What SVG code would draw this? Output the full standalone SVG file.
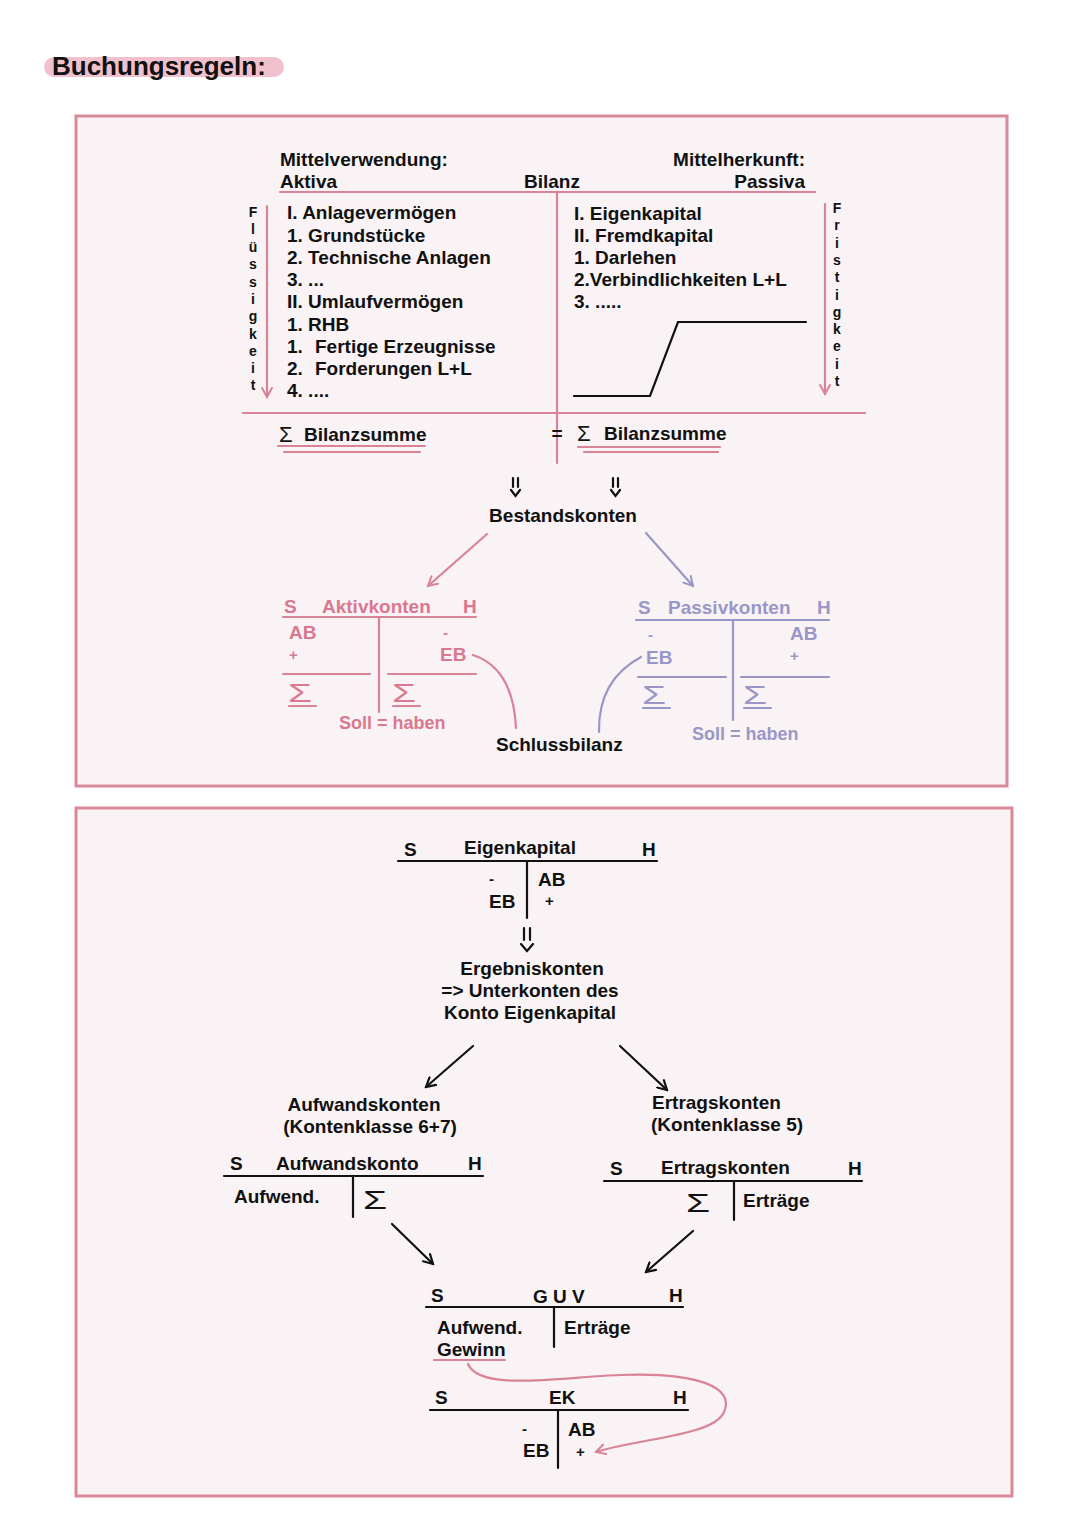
<svg xmlns="http://www.w3.org/2000/svg" width="1080" height="1527" viewBox="0 0 1080 1527">
<defs>
<style>
text{font-family:"Liberation Sans","Noto Sans",sans-serif;font-weight:700;font-size:19px;fill:#111}
.pk{fill:#d9788e}
.pu{fill:#9a97c8}
.ln{stroke:#111;stroke-width:2.2;fill:none;stroke-linecap:round}
.lp{stroke:#d98396;stroke-width:2.2;fill:none;stroke-linecap:round}
.lu{stroke:#9a97c8;stroke-width:2.2;fill:none;stroke-linecap:round}
.frame{fill:#f9f3f5;stroke:#d98a9a;stroke-width:3}
.c{text-anchor:middle}
.e{text-anchor:end}
.v{font-size:14px;text-anchor:middle}
.sm{font-size:15px}
.sg{font-size:26px;font-weight:400}
</style>
<marker id="ab" viewBox="0 0 12 12" refX="10" refY="6" markerWidth="12" markerHeight="12" markerUnits="userSpaceOnUse" orient="auto"><path d="M1,1 L10,6 L1,11" fill="none" stroke="#111" stroke-width="2.2" stroke-linecap="round"/></marker>
<marker id="ap" viewBox="0 0 12 12" refX="10" refY="6" markerWidth="12" markerHeight="12" markerUnits="userSpaceOnUse" orient="auto"><path d="M1,1 L10,6 L1,11" fill="none" stroke="#d98396" stroke-width="2" stroke-linecap="round"/></marker>
<marker id="au" viewBox="0 0 12 12" refX="10" refY="6" markerWidth="12" markerHeight="12" markerUnits="userSpaceOnUse" orient="auto"><path d="M1,1 L10,6 L1,11" fill="none" stroke="#9a97c8" stroke-width="2" stroke-linecap="round"/></marker>
</defs>
<rect width="1080" height="1527" fill="#ffffff"/>

<g id="title">
<rect x="44" y="57" width="240" height="20" rx="10" fill="#f0c0cc"/>
<text x="52" y="75" style="font-size:26px;font-weight:700">Buchungsregeln:</text>
</g>

<rect class="frame" x="76" y="116" width="931" height="670"/>
<rect class="frame" x="76" y="808" width="936" height="688"/>

<g id="bilanz">
<line class="lp" x1="280" y1="192" x2="815" y2="192"/>
<line class="lp" x1="557" y1="192" x2="557" y2="463"/>
<line class="lp" x1="243" y1="413" x2="865" y2="413"/>
<text x="280" y="166">Mittelverwendung:</text>
<text x="280" y="188">Aktiva</text>
<text x="524" y="188">Bilanz</text>
<text x="805" y="166" class="e">Mittelherkunft:</text>
<text x="805" y="188" class="e">Passiva</text>
<text x="287" y="219">I. Anlagevermögen</text>
<text x="287" y="242">1. Grundstücke</text>
<text x="287" y="264">2. Technische Anlagen</text>
<text x="287" y="286">3. ...</text>
<text x="287" y="308">II. Umlaufvermögen</text>
<text x="287" y="331">1. RHB</text>
<text x="287" y="353">1.<tspan x="315">Fertige Erzeugnisse</tspan></text>
<text x="287" y="375">2.<tspan x="315">Forderungen L+L</tspan></text>
<text x="287" y="397">4. ....</text>
<text x="574" y="220">I. Eigenkapital</text>
<text x="574" y="242">II. Fremdkapital</text>
<text x="574" y="264">1. Darlehen</text>
<text x="574" y="286">2.Verbindlichkeiten L+L</text>
<text x="574" y="308">3. .....</text>
<polyline class="ln" points="574,396 650,396 678,322 806,322"/>
<g id="fluessigkeit">
<text x="253" y="217" class="v">F</text><text x="253" y="234" class="v">l</text><text x="253" y="252" class="v">ü</text><text x="253" y="269" class="v">s</text><text x="253" y="287" class="v">s</text><text x="253" y="304" class="v">i</text><text x="253" y="321" class="v">g</text><text x="253" y="339" class="v">k</text><text x="253" y="356" class="v">e</text><text x="253" y="373" class="v">i</text><text x="253" y="390" class="v">t</text>
<line class="lp" x1="267" y1="206" x2="267" y2="397" marker-end="url(#ap)"/>
</g>
<g id="fristigkeit">
<text x="837" y="213" class="v">F</text><text x="837" y="230" class="v">r</text><text x="837" y="248" class="v">i</text><text x="837" y="265" class="v">s</text><text x="837" y="282" class="v">t</text><text x="837" y="300" class="v">i</text><text x="837" y="317" class="v">g</text><text x="837" y="334" class="v">k</text><text x="837" y="351" class="v">e</text><text x="837" y="369" class="v">i</text><text x="837" y="386" class="v">t</text>
<line class="lp" x1="825" y1="204" x2="825" y2="394" marker-end="url(#ap)"/>
</g>
<text x="279" y="442" style="font-size:22px;font-weight:400">Σ</text>
<text x="304" y="441">Bilanzsumme</text>
<line class="lp" x1="278" y1="446" x2="425" y2="446"/>
<line class="lp" x1="284" y1="452" x2="420" y2="452"/>
<text x="557" y="440" class="c">=</text>
<text x="577" y="441" style="font-size:22px;font-weight:400">Σ</text>
<text x="604" y="440">Bilanzsumme</text>
<line class="lp" x1="578" y1="447" x2="720" y2="447"/>
<line class="lp" x1="584" y1="452" x2="718" y2="452"/>
</g>

<g id="bestandskonten">
<text x="563" y="522" class="c">Bestandskonten</text>
</g>

<g id="aktivkonten">
<text x="284" y="613" class="pk">S</text>
<text x="322" y="613" class="pk">Aktivkonten</text>
<text x="463" y="613" class="pk">H</text>
<line class="lp" x1="283" y1="617" x2="476" y2="617"/>
<line class="lp" x1="379" y1="617" x2="379" y2="712"/>
<text x="289" y="639" class="pk">AB</text>
<text x="289" y="660" class="pk sm">+</text>
<text x="443" y="638" class="pk sm">-</text>
<text x="440" y="661" class="pk">EB</text>
<line class="lp" x1="283" y1="674" x2="370" y2="674"/>
<line class="lp" x1="388" y1="674" x2="476" y2="674"/>
<text class="pk sg" transform="translate(288,702) scale(1.5,1)">Σ</text>
<line class="lp" x1="289" y1="706" x2="316" y2="706"/>
<text class="pk sg" transform="translate(392,702) scale(1.5,1)">Σ</text>
<line class="lp" x1="393" y1="706" x2="420" y2="706"/>
<text x="339" y="729" class="pk" style="font-size:18px">Soll = haben</text>
</g>

<g id="passivkonten">
<text x="638" y="614" class="pu">S</text>
<text x="668" y="614" class="pu">Passivkonten</text>
<text x="817" y="614" class="pu">H</text>
<line class="lu" x1="636" y1="620" x2="829" y2="620"/>
<line class="lu" x1="733" y1="620" x2="733" y2="720"/>
<text x="648" y="640" class="pu sm">-</text>
<text x="646" y="664" class="pu">EB</text>
<text x="790" y="640" class="pu">AB</text>
<text x="790" y="661" class="pu sm">+</text>
<line class="lu" x1="638" y1="677" x2="726" y2="677"/>
<line class="lu" x1="741" y1="677" x2="829" y2="677"/>
<text class="pu sg" transform="translate(642,704) scale(1.5,1)">Σ</text>
<line class="lu" x1="643" y1="708" x2="670" y2="708"/>
<text class="pu sg" transform="translate(743,704) scale(1.5,1)">Σ</text>
<line class="lu" x1="744" y1="708" x2="771" y2="708"/>
<text x="692" y="740" class="pu" style="font-size:18px">Soll = haben</text>
</g>

<g id="schlussbilanz">
<text x="496" y="751">Schlussbilanz</text>
</g>

<g id="eigenkapital">
<text x="404" y="856">S</text>
<text x="464" y="854">Eigenkapital</text>
<text x="642" y="856">H</text>
<line class="ln" x1="398" y1="861" x2="657" y2="861"/>
<line class="ln" x1="527" y1="861" x2="527" y2="918"/>
<text x="489" y="884" class="sm">-</text>
<text x="538" y="886">AB</text>
<text x="489" y="908">EB</text>
<text x="545" y="906" class="sm">+</text>
</g>

<g id="ergebniskonten">
<text x="532" y="975" class="c">Ergebniskonten</text>
<text x="530" y="997" class="c">=&gt; Unterkonten des</text>
<text x="530" y="1019" class="c">Konto Eigenkapital</text>
</g>

<g id="aufwandskonten">
<text x="364" y="1111" class="c">Aufwandskonten</text>
<text x="370" y="1133" class="c">(Kontenklasse 6+7)</text>
<text x="230" y="1170">S</text>
<text x="276" y="1170">Aufwandskonto</text>
<text x="468" y="1170">H</text>
<line class="ln" x1="224" y1="1176" x2="483" y2="1176"/>
<line class="ln" x1="353" y1="1176" x2="353" y2="1217"/>
<text x="234" y="1203">Aufwend.</text>
<text class="sg" transform="translate(363,1209) scale(1.5,1)">Σ</text>
</g>

<g id="ertragskonten">
<text x="652" y="1109">Ertragskonten</text>
<text x="651" y="1131">(Kontenklasse 5)</text>
<text x="610" y="1175">S</text>
<text x="661" y="1174">Ertragskonten</text>
<text x="848" y="1175">H</text>
<line class="ln" x1="604" y1="1181" x2="862" y2="1181"/>
<line class="ln" x1="734" y1="1181" x2="734" y2="1220"/>
<text class="sg" transform="translate(686,1212) scale(1.5,1)">Σ</text>
<text x="743" y="1207">Erträge</text>
</g>

<g id="guv">
<text x="431" y="1302">S</text>
<text x="533" y="1303">G U V</text>
<text x="669" y="1302">H</text>
<line class="ln" x1="426" y1="1307" x2="683" y2="1307"/>
<line class="ln" x1="554" y1="1307" x2="554" y2="1347"/>
<text x="437" y="1334">Aufwend.</text>
<text x="437" y="1356">Gewinn</text>
<line class="lp" x1="434" y1="1360" x2="505" y2="1360"/>
<text x="564" y="1334">Erträge</text>
</g>

<g id="ek">
<text x="435" y="1404">S</text>
<text x="549" y="1404">EK</text>
<text x="673" y="1404">H</text>
<line class="ln" x1="430" y1="1410" x2="688" y2="1410"/>
<line class="ln" x1="558" y1="1410" x2="558" y2="1468"/>
<text x="522" y="1434" class="sm">-</text>
<text x="568" y="1436">AB</text>
<text x="523" y="1457">EB</text>
<text x="576" y="1457" class="sm">+</text>
</g>

<g id="connectors">
<g id="dbl1"><line class="ln" x1="513" y1="478" x2="513" y2="487"/><line class="ln" x1="518" y1="478" x2="518" y2="487"/><polyline class="ln" points="511,490 515.5,496 520,490"/></g>
<g id="dbl2"><line class="ln" x1="613" y1="478" x2="613" y2="487"/><line class="ln" x1="618" y1="478" x2="618" y2="487"/><polyline class="ln" points="611,490 615.5,496 620,490"/></g>
<line class="lp" x1="487" y1="534" x2="428" y2="586" marker-end="url(#ap)"/>
<line class="lu" x1="646" y1="533" x2="693" y2="586" marker-end="url(#au)"/>
<path class="lp" d="M473,655 Q513,668 516,728"/>
<path class="lu" d="M641,657 Q598,680 599,732"/>
<g id="dbl3"><line class="ln" x1="524" y1="928" x2="524" y2="940"/><line class="ln" x1="530" y1="928" x2="530" y2="940"/><polyline class="ln" points="521,944 527,951 533,944"/></g>
<line class="ln" x1="473" y1="1046" x2="426" y2="1087" marker-end="url(#ab)"/>
<line class="ln" x1="620" y1="1046" x2="667" y2="1090" marker-end="url(#ab)"/>
<line class="ln" x1="392" y1="1224" x2="433" y2="1264" marker-end="url(#ab)"/>
<line class="ln" x1="693" y1="1231" x2="646" y2="1272" marker-end="url(#ab)"/>
<path class="lp" d="M468,1364 C480,1392 560,1377 620,1375 C700,1372 735,1388 724,1412 C714,1436 640,1438 596,1452" marker-end="url(#ap)"/>
</g>
</svg>
